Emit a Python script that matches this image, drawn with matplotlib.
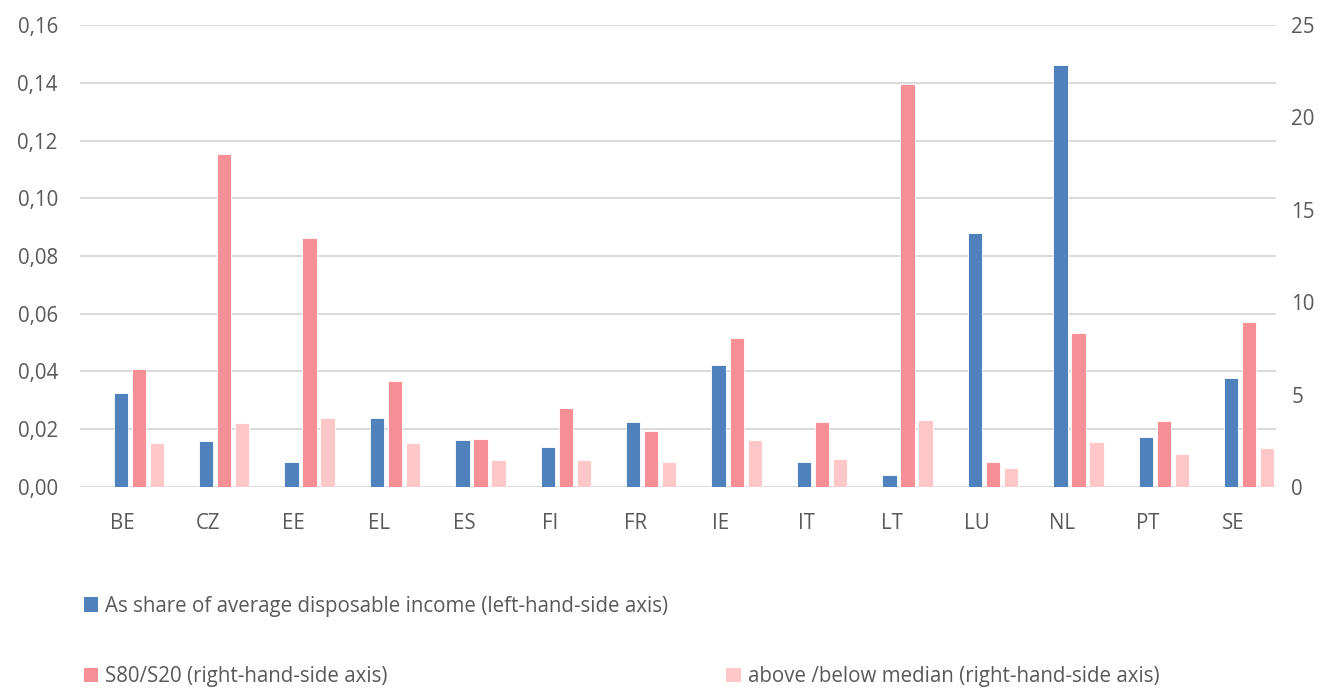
import matplotlib.pyplot as plt
import matplotlib.ticker as mticker
from matplotlib.patches import Patch
import numpy as np

plt.rcParams['font.family'] = ['Open Sans', 'DejaVu Sans']

countries = ['BE', 'CZ', 'EE', 'EL', 'ES', 'FI', 'FR', 'IE', 'IT', 'LT', 'LU', 'NL', 'PT', 'SE']
# left axis: share of average disposable income
share_income = [0.0327, 0.0160, 0.0086, 0.0238, 0.0163, 0.0139, 0.0226, 0.0421,
                0.0088, 0.0040, 0.0879, 0.1462, 0.0172, 0.0376]
# right axis
s80_s20 = [6.37, 18.02, 13.46, 5.72, 2.58, 4.27, 3.01, 8.05, 3.50, 21.79, 1.37, 8.35, 3.59, 8.93]
above_below = [2.36, 3.46, 3.72, 2.38, 1.48, 1.48, 1.35, 2.54, 1.53, 3.63, 1.03, 2.45, 1.79, 2.09]

labels = ['As share of average disposable income (left-hand-side axis)',
          'S80/S20 (right-hand-side axis)',
          'above /below median (right-hand-side axis)']
colors = ['#4F81BD', '#F79096', '#FFC7C8']
grey = '#595959'
fs = 14.8

fig = plt.figure(figsize=(13.25, 6.89), dpi=100)
ax = fig.add_axes([0.0604, 0.2932, 0.9026, 0.6705])
ax2 = ax.twinx()

x = np.arange(len(countries)) + 0.5
w = 0.168
step = 0.211
off = -0.024

ax.bar(x + off, share_income, w, color=colors[0], edgecolor='white', linewidth=0.6, zorder=3)
ax2.bar(x + off + step, s80_s20, w, color=colors[1], edgecolor='white', linewidth=0.6, zorder=3)
ax2.bar(x + off + 2 * step, above_below, w, color=colors[2], edgecolor='white', linewidth=0.6, zorder=3)

ax.set_xlim(0, len(countries))
ax.set_ylim(0, 0.16)
ax2.set_ylim(0, 25)
ax.yaxis.set_major_locator(mticker.MultipleLocator(0.02))
ax.yaxis.set_major_formatter(mticker.FuncFormatter(lambda v, _: f'{v:.2f}'.replace('.', ',')))
ax2.yaxis.set_major_locator(mticker.MultipleLocator(5))

ax.set_axisbelow(True)
ax.grid(axis='y', color='#D9D9D9', linewidth=1.4)
ax.set_xticks(x)
ax.set_xticklabels(countries)

for a in (ax, ax2):
    for s in a.spines.values():
        s.set_visible(False)
    a.tick_params(length=0, labelsize=fs, colors=grey)
ax.tick_params(axis='x', pad=19)
ax.tick_params(axis='y', pad=16)
ax2.tick_params(axis='y', pad=11)

# legend entries placed like the original layout
pos = [(0.057, 0.12), (0.057, 0.018), (0.542, 0.018)]
for lab, col, p in zip(labels, colors, pos):
    leg = fig.legend(handles=[Patch(facecolor=col, label=lab)], loc='center left',
                     bbox_to_anchor=p, frameon=False, fontsize=fs,
                     handlelength=0.7, handleheight=0.7, handletextpad=0.35,
                     borderaxespad=0)
    for t in leg.get_texts():
        t.set_color(grey)

fig.savefig('out.png', dpi=100)
